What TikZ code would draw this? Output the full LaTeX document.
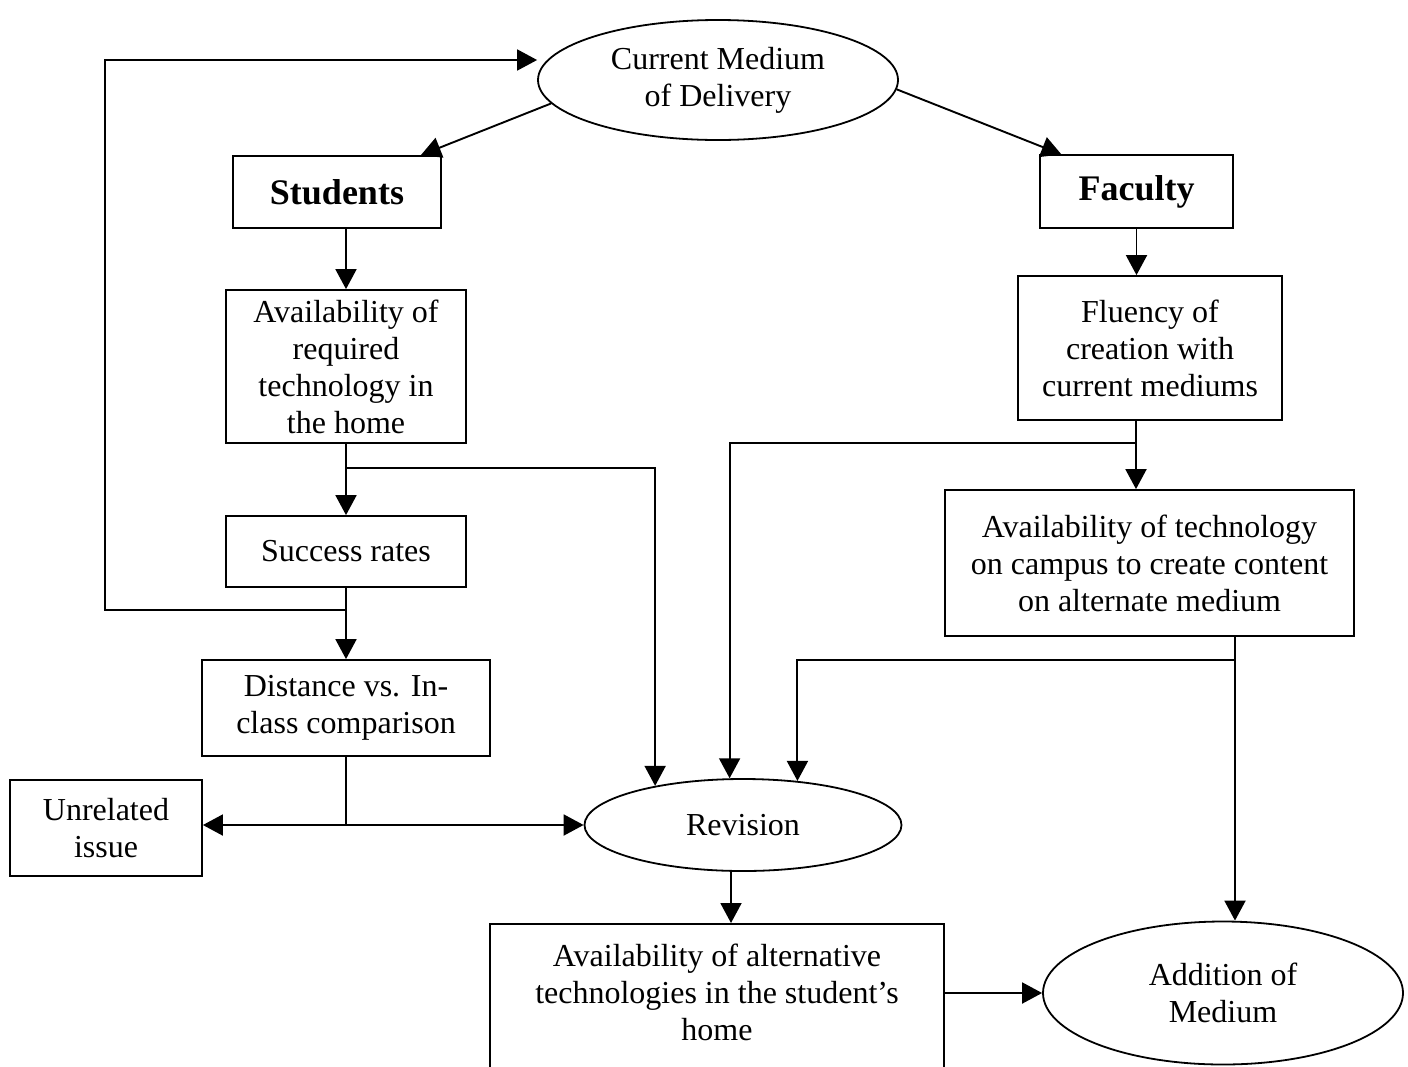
\documentclass[tikz,border=0pt]{standalone}
\usepackage{fontspec}
\setmainfont{Liberation Serif}
\usetikzlibrary{arrows.meta,positioning,shapes.geometric,calc}

\begin{document}
\begin{tikzpicture}[
    x=1pt, y=-1pt,
    box/.style={
        rectangle,
        draw,
        line width=1.8pt,
        align=center,
        inner sep=0pt,
        font=\fontsize{32}{37}\selectfont
    },
    oval/.style={
        ellipse,
        draw,
        line width=1.8pt,
        align=center,
        inner sep=0pt,
        font=\fontsize{32}{37}\selectfont
    },
    title/.style={font=\fontsize{36}{40}\selectfont\bfseries},
    arrow/.style={-{Triangle[length=20pt, width=21pt]}, line width=1.9pt},
    line/.style={line width=1.9pt}
]
\useasboundingbox (0,0) rectangle (1408,1066);

% Main nodes
\node[oval, minimum width=360pt, minimum height=120pt] (medium) at (718,80) {Current Medium\\of Delivery};
\node[box, title, minimum width=208pt, minimum height=72pt] (students) at (337,192) {Students};
\node[box, title, line width=1.1pt, minimum width=193pt, minimum height=73pt] (faculty) at (1136.5,191.5) {Faculty};

% Students side
\node[box, minimum width=240pt, minimum height=153pt] (avail) at (346,366.5) {Availability of\\required\\technology in\\the home};
\node[box, minimum width=240pt, minimum height=71pt] (success) at (346,551.5) {Success rates};
\node[box, minimum width=288pt, minimum height=96pt] (distance) at (346,708) {Distance vs. In-\\class comparison};
\node[box, minimum width=192pt, minimum height=96pt] (unrelated) at (106,828) {Unrelated\\issue};

% Faculty side
\node[box, minimum width=264pt, minimum height=144pt] (fluency) at (1150,348) {Fluency of\\creation with\\current mediums};
\node[box, minimum width=409pt, minimum height=146pt] (campus) at (1149.5,563) {Availability of technology\\on campus to create content\\on alternate medium};

% Bottom
\node[oval, minimum width=317pt, minimum height=92pt] (revision) at (743,825) {Revision};
\node[box, minimum width=454pt, minimum height=174pt, anchor=north] (alt) at (717,923) {Availability of alternative\\technologies in the student's\\home\\\mbox{}};
\node[oval, minimum width=360pt, minimum height=143pt] (addition) at (1223,993) {Addition of\\Medium};

% Branch points
\coordinate (abranch) at (346,468);
\coordinate (sbranch) at (346,610);
\coordinate (loopcorner) at (105,610);
\coordinate (dsplit) at (346,825);
\coordinate (fbranch) at (1136,443);
\coordinate (cbranch) at (1235,660);

% Top arrows
\draw[arrow] (medium.188) -- ([xshift=-21pt]students.north east);
\draw[arrow] (medium.357) -- ([xshift=22pt]faculty.north west);
\draw[arrow] (avail.north |- students.south) -- (avail.north);
\draw[arrow] (faculty.south) -- (faculty.south |- fluency.north);

% Students chain
\draw[arrow] (avail) -- (success);
\draw[arrow] (abranch) -| (revision.156);
\draw[arrow] (success) -- (distance);
\draw[arrow] (sbranch) -- (loopcorner) |- ([yshift=20pt]medium.west);
\draw[line] (distance) -- (dsplit);
\draw[arrow] (dsplit) -- (unrelated.east |- dsplit);
\draw[arrow] (dsplit) -- (revision.west);

% Faculty chain
\draw[arrow] (fbranch |- fluency.south) -- (fbranch |- campus.north);
\draw[arrow] (fbranch) -| (revision.106);
\draw[arrow] (cbranch |- campus.south) -- (cbranch |- addition.north);
\draw[arrow] (cbranch) -| (revision.39);

% Result
\draw[arrow] ([xshift=-12pt]revision.south) -- ([xshift=-12pt]revision.south |- alt.north);
\draw[arrow] (alt.east |- addition.west) -- (addition.west);

\end{tikzpicture}
\end{document}
